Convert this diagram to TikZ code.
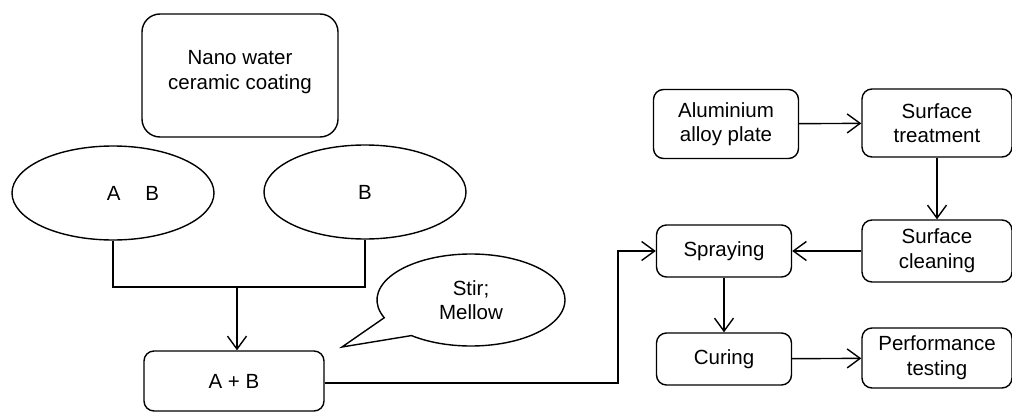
\documentclass[tikz,border=0pt]{standalone}
\usepackage{fontspec}
\setmainfont{Liberation Sans}
\usetikzlibrary{arrows.meta,shapes.geometric,shapes.callouts}

\tikzset{
    stepbox/.style={draw, rounded corners=10pt, align=center, inner sep=0pt},
    blob/.style={draw, ellipse, inner sep=0pt, minimum width=202pt, minimum height=94pt},
    flow/.style={-{Straight Barb[length=13pt,width=19pt]}},
}

\begin{document}
\begin{tikzpicture}[x=1pt, y=-1pt, line width=1.4pt,
        font=\fontsize{20.5}{24.6}\selectfont]
            \useasboundingbox (0,0) rectangle (1012,412);

            \node[stepbox, rounded corners=18pt, minimum width=196pt, minimum height=123pt] (Coat) at (240,75.5) {Nano water\\ceramic coating\\[-14pt]};
            \node[blob] (CompA) at (113,193) {\hspace*{40pt}A\hspace{25pt}B};
            \node[blob] (CompB) at (365,192) {B};
            \node[stepbox, minimum width=180pt, minimum height=60pt] (Mix) at (234,381) {A + B};
            \node[draw, ellipse callout, inner sep=0pt, minimum width=188pt, minimum height=92pt,
                callout absolute pointer={(342,347)}, callout pointer arc=28, align=center] (Stir) at (471,300) {Stir;\\Mellow};

            \node[stepbox, minimum width=145pt, minimum height=69pt] (Plate) at (726,124) {Aluminium\\alloy plate};
            \node[stepbox, minimum width=150pt, minimum height=68pt] (Treat) at (937,123) {Surface\\treatment};
            \node[stepbox, minimum width=150pt, minimum height=62pt] (Clean) at (937,251) {Surface\\cleaning};
            \node[stepbox, minimum width=135pt, minimum height=52pt] (Spray) at (724,251) {Spraying};
            \node[stepbox, minimum width=135pt, minimum height=52pt] (Cure) at (724,359) {Curing};
            \node[stepbox, minimum width=150pt, minimum height=60pt] (Test) at (937,358) {Performance\\testing};

            \coordinate (Join) at (237,287);
            \coordinate (Turn) at (618,383);

            \draw (CompA.south) |- (Join) -| (CompB.south);
            \draw (Join) edge[flow] (Join |- Mix.north);
            \draw[flow] (Mix.east |- Turn) -- (Turn) |- (Spray.west);

            \draw (Plate) edge[flow] (Treat);
            \draw (Treat) edge[flow] (Clean);
            \draw (Clean) edge[flow] (Spray);
            \draw (Spray) edge[flow] (Cure);
            \draw (Cure) edge[flow] (Test);
        \end{tikzpicture}
\end{document}
